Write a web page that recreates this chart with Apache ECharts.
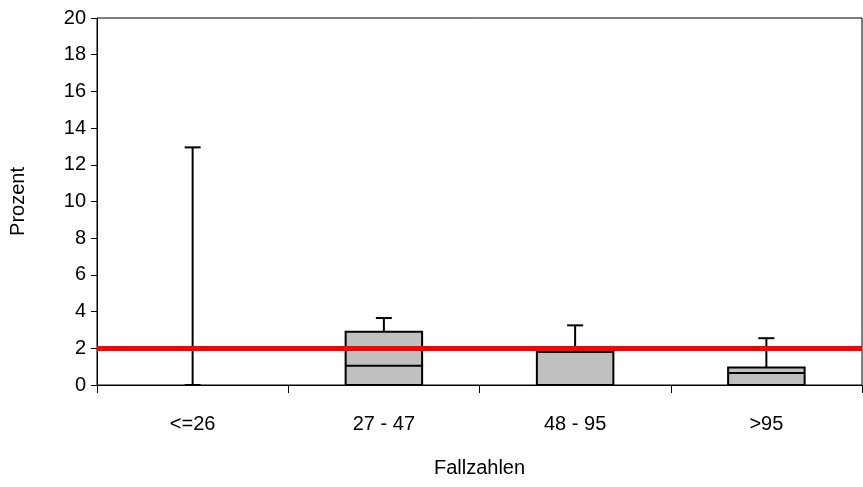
<!DOCTYPE html>
<html>
<head>
<meta charset="utf-8">
<script src="https://cdn.jsdelivr.net/npm/echarts@6/dist/echarts.min.js"></script>
<style>html,body{margin:0;padding:0;background:#fff}#c{width:863px;height:487px}</style>
</head>
<body>
<div id="c"></div>
<script>
var categories = ['<=26', '27 - 47', '48 - 95', '>95'];
var minVals = [0, 0, 0, 0];
var q1Vals = [0, 0, 0, 0];
var medianVals = [0, 1.05, 0, 0.65];
var q3Vals = [0, 2.9, 1.8, 0.95];
var maxVals = [12.95, 3.65, 3.25, 2.55];
var referenceValue = 2;
var yTicks = [0, 2, 4, 6, 8, 10, 12, 14, 16, 18, 20];

var FONT = '"Liberation Sans", Arial, sans-serif';
var boxData = categories.map(function (c, i) {
  return [i, minVals[i], q1Vals[i], medianVals[i], q3Vals[i], maxVals[i]];
});

var chart = echarts.init(document.getElementById('c'), null, {renderer: 'canvas'});
chart.setOption({
  animation: false,
  backgroundColor: '#fff',
  grid: {left: 97, right: 1, top: 18, bottom: 102, show: true, borderColor: '#000', borderWidth: 1,
         containLabel: false, outerBoundsMode: 'none'},
  xAxis: {
    type: 'category',
    data: categories,
    boundaryGap: true,
    name: 'Fallzahlen',
    nameLocation: 'middle',
    nameGap: 73,
    nameTextStyle: {fontFamily: FONT, fontSize: 20, color: '#000'},
    axisLine: {lineStyle: {color: '#000', width: 1}},
    axisTick: {show: true, interval: 0, length: 8, lineStyle: {color: '#000'}},
    axisLabel: {interval: 0, margin: 29, fontFamily: FONT, fontSize: 20, color: '#000'},
    splitLine: {show: false}
  },
  yAxis: {
    type: 'value',
    min: yTicks[0],
    max: yTicks[yTicks.length - 1],
    interval: 2,
    name: 'Prozent',
    nameLocation: 'middle',
    nameRotate: 90,
    nameGap: 69,
    nameTextStyle: {fontFamily: FONT, fontSize: 20, color: '#000'},
    axisLine: {show: true, lineStyle: {color: '#000', width: 1}},
    axisTick: {show: true, length: 6, lineStyle: {color: '#000'}},
    axisLabel: {margin: 11, fontFamily: FONT, fontSize: 20, color: '#000'},
    splitLine: {show: false}
  },
  series: [{
    type: 'custom',
    data: boxData,
    encode: {x: 0, y: [1, 2, 3, 4, 5]},
    z: 2,
    renderItem: function (params, api) {
      var idx = api.value(0);
      var pMin = api.coord([idx, api.value(1)]);
      var pQ1 = api.coord([idx, api.value(2)]);
      var pMed = api.coord([idx, api.value(3)]);
      var pQ3 = api.coord([idx, api.value(4)]);
      var pMax = api.coord([idx, api.value(5)]);
      var bw = api.size([1, 0])[0] * 0.4;
      var cw = 16;
      var x = pMin[0];
      var children = [];
      var ls = {stroke: '#000', lineWidth: 2};
      children.push({type: 'line', shape: {x1: x, y1: pMin[1], x2: x, y2: pMax[1]}, style: ls});
      children.push({type: 'line', shape: {x1: x - cw / 2, y1: pMax[1], x2: x + cw / 2, y2: pMax[1]}, style: ls});
      children.push({type: 'line', shape: {x1: x - cw / 2, y1: pMin[1], x2: x + cw / 2, y2: pMin[1]}, style: ls});
      if (api.value(4) > api.value(2)) {
        children.push({type: 'rect', shape: {x: x - bw / 2, y: pQ3[1], width: bw, height: pQ1[1] - pQ3[1]},
          style: {fill: '#c0c0c0', stroke: '#000', lineWidth: 2}});
        children.push({type: 'line', shape: {x1: x - bw / 2, y1: pMed[1], x2: x + bw / 2, y2: pMed[1]}, style: ls});
      }
      return {type: 'group', children: children};
    },
    markLine: {
      silent: true,
      symbol: ['none', 'none'],
      label: {show: false},
      z: 5,
      lineStyle: {color: '#ff0000', width: 5, type: 'solid'},
      data: [{yAxis: referenceValue}]
    }
  }]
});
</script>
</body>
</html>
